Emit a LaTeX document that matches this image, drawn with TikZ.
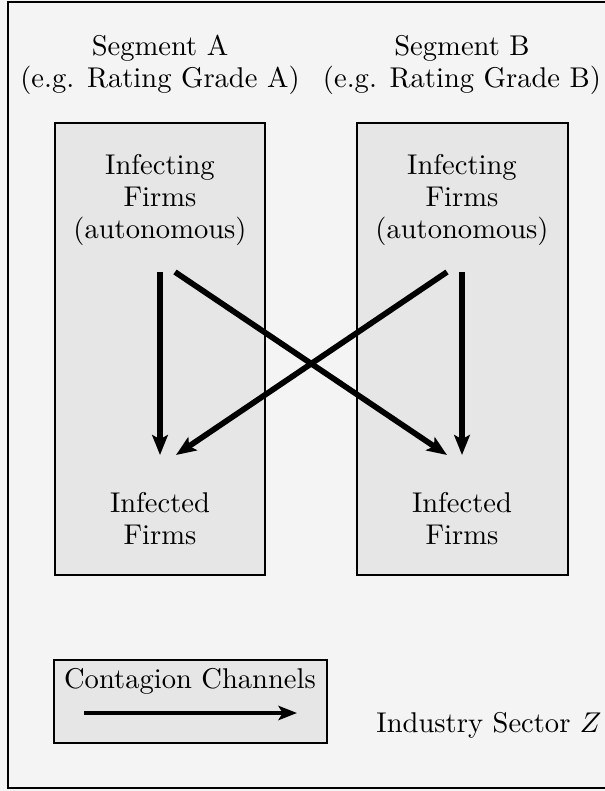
\documentclass[tikz,border=0pt]{standalone}
\usetikzlibrary{arrows.meta}
\definecolor{bgout}{HTML}{F4F4F4}
\definecolor{bgin}{HTML}{E6E6E6}
\begin{document}
\begin{tikzpicture}[x=0.35pt,y=-0.35pt,
  seg/.style={draw=black,line width=0.75pt,fill=bgin},
  lbl/.style={align=center,inner sep=0pt,font=\fontsize{10}{11.2}\selectfont},
  chan/.style={line width=2pt,-{Stealth[length=7pt,width=5.5pt,inset=1.5pt]}},
  legarrow/.style={line width=1.7pt,-{Stealth[length=6.5pt,width=5pt,inset=1.5pt]}}]
\useasboundingbox (0,0) rectangle (605,791);
\fill[bgout] (0,0) rectangle (605,791);
\draw[line width=1pt,fill=bgout] (8,2) rectangle (640,788);
% segment boxes
\draw[seg] (55,123) rectangle (265,575);
\draw[seg] (357,123) rectangle (568,575);
% titles
\node[lbl] (segA) at (160,65) {Segment A\\(e.g. Rating Grade A)};
\node[lbl] (segB) at (462,65) {Segment B\\(e.g. Rating Grade B)};
\node[lbl] (infA) at (160,200) {Infecting\\Firms\\(autonomous)};
\node[lbl] (infB) at (462,200) {Infecting\\Firms\\(autonomous)};
\node[lbl] (tedA) at (160,519) {Infected\\Firms};
\node[lbl] (tedB) at (462,519) {Infected\\Firms};
% arrow ends
\coordinate (a1) at (160,272);
\coordinate (a2) at (160,455);
\coordinate (b1) at (175,272);
\coordinate (b2) at (447,455);
\coordinate (c1) at (462,272);
\coordinate (c2) at (462,455);
\coordinate (d1) at (447,272);
\coordinate (d2) at (176,455);
\draw[chan] (a1) -- (a2);
\draw[chan] (b1) -- (b2);
\draw[chan] (c1) -- (c2);
\draw[chan] (d1) -- (d2);
% legend
\draw[seg] (54,660) rectangle (327,743);
\node[lbl] (leg) at (190,681) {Contagion Channels};
\coordinate (l1) at (84,713);
\coordinate (l2) at (297,713);
\draw[legarrow] (l1) -- (l2);
\node[lbl] (sector) at (489,725) {Industry Sector $Z$};
\end{tikzpicture}
\end{document}
